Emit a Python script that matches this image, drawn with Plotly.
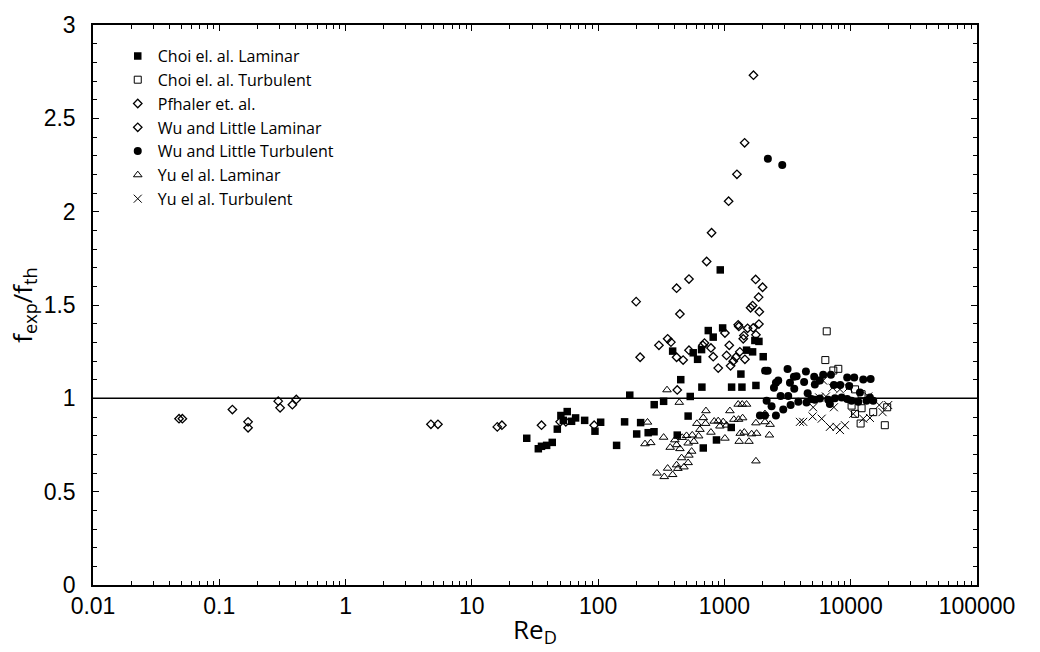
import plotly.graph_objects as go

# ---------------- data ----------------
choi_lam_re = [27.2, 33.6, 35.6, 39.1, 43.3, 47.5, 50.7, 53.0, 56.9, 61.6, 66.3, 78.2, 94.4, 104.7,
               140, 162, 178, 202, 217, 249, 277, 278, 330, 389, 423, 451, 516, 536, 566, 613,
               659, 663, 680, 745, 815, 865, 927, 968, 1132, 1140, 1350, 1376, 1497, 1671, 1742,
               1776, 1876, 2028]
choi_lam_f = [0.786, 0.730, 0.743, 0.748, 0.764, 0.835, 0.908, 0.882, 0.929, 0.877, 0.895, 0.882, 0.824, 0.872,
              0.748, 0.874, 1.017, 0.809, 0.870, 0.816, 0.821, 0.966, 0.984, 1.253, 0.803, 1.100, 0.905, 1.010, 1.244, 1.209,
              1.261, 1.060, 0.734, 1.363, 1.328, 0.777, 1.688, 1.377, 0.844, 1.060, 1.130, 1.060, 1.258, 1.249, 1.310,
              1.069, 1.305, 1.223]

choi_turb_re = [6457, 6296, 7282, 7974, 10820, 12190, 10160, 12190, 10820, 15070, 11980, 18620, 19450]
choi_turb_f = [1.359, 1.205, 1.149, 1.158, 1.048, 1.022, 0.961, 0.947, 0.917, 0.926, 0.865, 0.856, 0.952]

pfhaler_re = [0.048, 0.051, 0.127, 0.169, 0.169, 0.293, 0.303, 0.379, 0.407, 4.74, 5.39, 15.9, 17.3,
              35.6, 50.0, 55.5, 93]
pfhaler_f = [0.891, 0.891, 0.940, 0.874, 0.842, 0.985, 0.949, 0.966, 0.994, 0.861, 0.861, 0.847, 0.856,
             0.856, 0.874, 0.874, 0.856]

wu_lam_re = [200, 215, 303, 355, 377, 418, 418, 423, 444, 471, 524, 524, 695, 675, 723, 782, 791, 815,
             893, 1009, 1040, 1079, 1092, 1119, 1173, 1232, 1256, 1285, 1300, 1325, 1409, 1426, 1445,
             1453, 1525, 1611, 1671, 1690, 1698, 1766, 1776, 1866, 1876, 1889, 2005]
wu_lam_f = [1.518, 1.220, 1.284, 1.319, 1.301, 1.590, 1.220, 1.045, 1.452, 1.205, 1.258, 1.639, 1.296, 1.284,
            1.733, 1.270, 1.887, 1.223, 1.162, 1.350, 1.230, 2.056, 1.284, 1.174, 1.199, 1.220, 2.200, 1.394,
            1.385, 1.249, 1.319, 1.336, 2.369, 1.209, 1.375, 1.485, 1.497, 1.377, 2.731, 1.637, 1.340, 1.542,
            1.398, 1.464, 1.595]

wu_turb_re = [2100, 2200, 3162, 3727, 3550, 4418, 2667, 2557, 3303, 4276, 5140, 6053, 6968, 5700, 5200,
              2467, 3572, 4560, 2786, 3200, 8260, 9380, 10660, 12570, 14380, 9730, 7360, 11830, 14190,
              15070, 4888, 5200, 5700, 6637, 7500, 8480, 9380, 10160, 11470, 3846, 4467, 6839, 2158,
              2362, 2923, 3344, 2557, 2094, 1910, 13340, 2208, 2870]
wu_turb_f = [1.148, 1.148, 1.157, 1.118, 1.115, 1.144, 1.095, 1.083, 1.083, 1.087, 1.115, 1.127, 1.127, 1.095, 1.074,
             1.057, 1.052, 1.027, 1.013, 1.013, 1.071, 1.111, 1.111, 1.101, 1.104, 1.066, 1.071, 1.031, 1.005,
             0.987, 0.996, 0.992, 0.999, 0.992, 1.001, 1.005, 0.996, 0.987, 0.982, 0.982, 0.978, 0.970, 0.987,
             0.957, 0.940, 0.964, 0.908, 0.908, 0.908, 0.987, 2.284, 2.250]

yu_lam_re = [351, 439, 246, 330, 235, 261, 372, 405, 418, 444, 463, 501, 516, 556, 573, 550, 523, 458,
             516, 478, 418, 428, 355, 389, 334, 292, 605, 640, 680, 710, 714, 625, 782, 830, 893, 921,
             978, 1040, 1009, 1105, 1188, 1294, 1393, 1285, 1383, 1497, 1309, 1334, 1436, 1564, 1642,
             1798, 1776, 1776, 2094, 2300, 2094, 2270]
yu_lam_f = [1.045, 0.978, 0.872, 0.791, 0.756, 0.762, 0.737, 0.777, 0.751, 0.730, 0.790, 0.800, 0.760, 0.803,
            0.769, 0.716, 0.695, 0.681, 0.655, 0.632, 0.643, 0.624, 0.625, 0.591, 0.580, 0.599, 0.865, 0.833,
            0.896, 0.865, 0.933, 0.798, 0.818, 0.877, 0.879, 0.851, 0.874, 0.856, 0.786, 0.933, 0.887, 0.887,
            0.895, 0.968, 0.968, 0.968, 0.769, 0.812, 0.818, 0.769, 0.809, 0.812, 0.664, 0.868, 0.874, 0.860,
            0.917, 0.803]

yu_turb_re = [6053, 7180, 8222, 9570, 5624, 6360, 5043, 7360, 4989, 4204, 3962, 5890, 6839, 7730, 8222,
              9000, 10480, 12570, 14190, 16830, 17870, 19820, 13770]
yu_turb_f = [1.095, 1.057, 1.048, 1.057, 1.005, 1.010, 0.952, 0.952, 0.903, 0.874, 0.874, 0.891, 0.847, 0.847,
             0.830, 0.856, 0.917, 0.891, 0.895, 0.964, 0.926, 0.964, 1.010]

names = ["Choi el. al. Laminar", "Choi el. al. Turbulent", "Pfhaler et. al.",
         "Wu and Little Laminar", "Wu and Little Turbulent", "Yu el al. Laminar", "Yu el al. Turbulent"]

x_ticks = [0.01, 0.1, 1, 10, 100, 1000, 10000, 100000]
x_tick_text = ["0.01", "0.1", "1", "10", "100", "1000", "10000", "100000"]
y_ticks = [0, 0.5, 1, 1.5, 2, 2.5, 3]
y_tick_text = ["0", "0.5", "1", "1.5", "2", "2.5", "3"]

# ---------------- figure ----------------
fig = go.Figure()
series = [
    (choi_lam_re, choi_lam_f, dict(symbol="square", size=7.5, color="black", line=dict(width=0))),
    (choi_turb_re, choi_turb_f, dict(symbol="square-open", size=7, color="black", line=dict(width=1))),
    (pfhaler_re, pfhaler_f, dict(symbol="diamond-open", size=6.5, color="black", line=dict(width=1.3))),
    (wu_lam_re, wu_lam_f, dict(symbol="diamond-open", size=6.5, color="black", line=dict(width=1.3))),
    (wu_turb_re, wu_turb_f, dict(symbol="circle", size=8, color="black", line=dict(width=0))),
    (yu_lam_re, yu_lam_f, dict(symbol="triangle-up-open", size=7.5, color="black", line=dict(width=1))),
    (yu_turb_re, yu_turb_f, dict(symbol="x-thin-open", size=8, color="black", line=dict(width=1, color="black"))),
]
for (xs, ys, mk), nm in zip(series, names):
    fig.add_trace(go.Scatter(x=xs, y=ys, mode="markers", name=nm, marker=mk))

fig.add_shape(type="line", xref="paper", x0=0, x1=1, yref="y", y0=1, y1=1,
              line=dict(color="black", width=1.5))

tick_font = dict(family="Liberation Sans, Arial, sans-serif", size=23, color="black")
title_font = dict(family="Open Sans, sans-serif", size=26, color="black")

fig.update_layout(
    width=1040, height=652,
    margin=dict(l=93, r=63, t=17, b=62),
    paper_bgcolor="white", plot_bgcolor="white",
    showlegend=True,
    legend=dict(x=0.028, y=0.975, xanchor="left", yanchor="top",
                font=dict(family="Open Sans, sans-serif", size=16, color="black"),
                bgcolor="rgba(0,0,0,0)", itemwidth=30, tracegroupgap=0),
    xaxis=dict(type="log", range=[-2, 5], tickvals=x_ticks, ticktext=x_tick_text,
               ticks="inside", ticklen=6, tickwidth=1.2, tickcolor="black",
               showline=True, linecolor="black", linewidth=1.5, mirror="ticks",
               showgrid=False, zeroline=False, tickfont=tick_font,
               minor=dict(ticks="inside", ticklen=4, tickwidth=1, tickcolor="black", dtick="D1", showgrid=False),
               title=dict(text="Re<sub>D</sub>", font=title_font, standoff=2)),
    yaxis=dict(range=[0, 3], tickvals=y_ticks, ticktext=y_tick_text,
               ticks="inside", ticklen=6, tickwidth=1.2, tickcolor="black",
               showline=True, linecolor="black", linewidth=1.5, mirror="ticks",
               showgrid=False, zeroline=False, tickfont=tick_font, ticklabelstandoff=11,
               minor=dict(ticks="inside", ticklen=4, tickwidth=1, tickcolor="black", dtick=0.1, showgrid=False),
               title=dict(text="f<sub>exp</sub>/f<sub>th</sub>", font=title_font, standoff=4)),
)

fig.write_html("out.html")
